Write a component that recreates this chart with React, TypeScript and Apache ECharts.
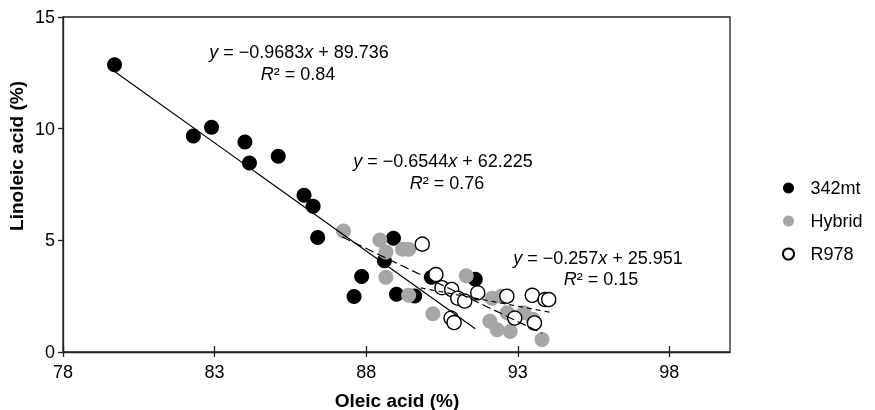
import React, { useEffect, useRef } from "react";
import * as echarts from "echarts";

const seriesNames = ["342mt", "Hybrid", "R978"];

const data342mt: [number, number][] = [
  [79.7, 12.86], [82.3, 9.67], [82.9, 10.06], [84.0, 9.4], [84.15, 8.46],
  [85.1, 8.76], [85.95, 7.02], [86.25, 6.53], [86.4, 5.13], [88.9, 5.09],
  [88.6, 4.09], [87.85, 3.38], [87.6, 2.48], [89.0, 2.59], [89.6, 2.51],
  [90.15, 3.35], [91.6, 3.26],
];

const dataHybrid: [number, number][] = [
  [87.25, 5.42], [88.45, 5.01], [88.65, 4.48], [89.2, 4.6], [89.4, 4.6],
  [88.65, 3.35], [89.4, 2.54], [90.2, 1.71], [91.3, 3.41], [92.15, 2.41],
  [92.45, 2.5], [92.65, 1.76], [93.2, 1.76], [93.5, 1.47], [92.08, 1.38],
  [92.32, 1.0], [92.75, 0.92], [93.8, 0.56],
];

const dataR978: [number, number][] = [
  [89.85, 4.83], [90.3, 3.47], [90.5, 2.88], [90.82, 2.8], [91.02, 2.41],
  [91.25, 2.28], [91.68, 2.65], [90.8, 1.52], [90.9, 1.32], [92.64, 2.5],
  [93.48, 2.54], [93.9, 2.35], [94.02, 2.35], [92.9, 1.52], [93.55, 1.3],
];

// Trend line end points
const fit342mt: [number, number][] = [[79.7, 12.56], [91.6, 1.04]];
const fitHybrid: [number, number][] = [[87.2, 5.16], [93.8, 0.84]];
const fitR978: [number, number][] = [[89.8, 2.87], [94.1, 1.77]];

const equations = [
  { eq: "{i|y} = −0.9683{i|x} + 89.736", r2: "{i|R}² = 0.84" },
  { eq: "{i|y} = −0.6544{i|x} + 62.225", r2: "{i|R}² = 0.76" },
  { eq: "{i|y} = −0.257{i|x} + 25.951", r2: "{i|R}² = 0.15" },
];

const xTicks = [78, 83, 88, 93, 98];
const xMin = 78;
const xMax = 100;
const xInterval = 5;
const yMin = 0;
const yMax = 15;
const yInterval = 5;

const FONT = "'Liberation Sans', Arial, Helvetica, sans-serif";

export default function App() {
  const ref = useRef<HTMLDivElement>(null);
  useEffect(() => {
    if (!ref.current) return;
    const chart = echarts.init(ref.current, undefined, { renderer: "svg" });

    const eqPos = [
      { x: 299, y: 52, rx: 298, ry: 74 },
      { x: 443, y: 161, rx: 447, ry: 183 },
      { x: 598, y: 258, rx: 601, ry: 279 },
    ];
    const rich = { i: { fontStyle: "italic", fontSize: 18, fontFamily: FONT, fill: "#000" } };
    const eqGraphics: any[] = [];
    const textStyle = (text: string) => ({
      text,
      fontSize: 18,
      fontFamily: FONT,
      fill: "#000",
      align: "center",
      verticalAlign: "middle",
      textAlign: "center",
      textVerticalAlign: "middle",
      rich,
    });
    equations.forEach((e, k) => {
      const p = eqPos[k];
      eqGraphics.push({ type: "text", x: p.x, y: p.y, z: 100, style: textStyle(e.eq) });
      eqGraphics.push({ type: "text", x: p.rx, y: p.ry, z: 100, style: textStyle(e.r2) });
    });

    const lineStyleBase = { color: "#000", width: 1.2 };

    chart.setOption({
      animation: false,
      grid: {
        left: 63,
        right: 145,
        top: 17,
        bottom: 58,
        show: true,
        borderColor: "#222",
        borderWidth: 1.3,
        backgroundColor: "transparent",
      },
      legend: {
        data: seriesNames,
        orient: "vertical",
        left: 777,
        top: 173,
        itemWidth: 34,
        itemHeight: 11,
        itemGap: 13,
        textStyle: { fontSize: 18, fontFamily: FONT, color: "#000", lineHeight: 20 },
      },
      xAxis: [
        {
          type: "value",
          min: xMin,
          max: xMax,
          interval: xInterval,
          position: "bottom",
          splitLine: { show: false },
          axisLine: { show: true, onZero: false, lineStyle: { color: "#222", width: 1.3 } },
          axisTick: {
            show: true,
            inside: false,
            length: 5,
            customValues: xTicks,
            lineStyle: { color: "#222", width: 1.3 },
          },
          axisLabel: {
            fontSize: 18,
            fontFamily: FONT,
            color: "#000",
            margin: 11,
            customValues: xTicks,
          },
        },
        {
          type: "value",
          min: xMin,
          max: xMax,
          interval: xInterval,
          position: "bottom",
          splitLine: { show: false },
          axisLine: { show: false, onZero: false },
          axisTick: {
            show: true,
            inside: true,
            length: 6,
            customValues: xTicks,
            lineStyle: { color: "#222", width: 1.3 },
          },
          axisLabel: { show: false },
        },
      ],
      yAxis: {
        type: "value",
        min: yMin,
        max: yMax,
        interval: yInterval,
        splitLine: { show: false },
        axisLine: { show: true, lineStyle: { color: "#222", width: 1.3 } },
        axisTick: { show: true, inside: false, length: 5, lineStyle: { color: "#222", width: 1.3 } },
        axisLabel: { fontSize: 18, fontFamily: FONT, color: "#000", margin: 8 },
      },
      series: [
        {
          name: "342mt",
          type: "scatter",
          symbol: "circle",
          symbolSize: 15,
          data: data342mt,
          itemStyle: { color: "#000", opacity: 1 },
          z: 3,
        },
        {
          name: "Hybrid",
          type: "scatter",
          symbol: "circle",
          symbolSize: 15,
          data: dataHybrid,
          itemStyle: { color: "#a6a6a6", opacity: 1 },
          z: 4,
        },
        {
          name: "R978",
          type: "scatter",
          symbol: "circle",
          symbolSize: 14,
          data: dataR978,
          itemStyle: { color: "#fff", borderColor: "#000", borderWidth: 1.4, opacity: 1 },
          z: 5,
        },
        {
          name: "fit342mt",
          type: "line",
          data: fit342mt,
          showSymbol: false,
          symbol: "none",
          lineStyle: { ...lineStyleBase, type: "solid" },
          z: 6,
          silent: true,
        },
        {
          name: "fitHybrid",
          type: "line",
          data: fitHybrid,
          showSymbol: false,
          symbol: "none",
          lineStyle: { ...lineStyleBase, type: [9, 4] },
          z: 6,
          silent: true,
        },
        {
          name: "fitR978",
          type: "line",
          data: fitR978,
          showSymbol: false,
          symbol: "none",
          lineStyle: { ...lineStyleBase, type: [5, 4] },
          z: 6,
          silent: true,
        },
      ],
      graphic: [
        ...eqGraphics,
        {
          type: "text",
          x: 397,
          y: 400,
          style: {
            text: "Oleic acid (%)",
            fontSize: 19,
            fontWeight: "bold",
            fontFamily: FONT,
            fill: "#000",
            align: "center",
            verticalAlign: "middle",
            textAlign: "center",
            textVerticalAlign: "middle",
          },
        },
        {
          type: "text",
          x: 16,
          y: 156,
          rotation: Math.PI / 2,
          style: {
            text: "Linoleic acid (%)",
            fontSize: 19,
            fontWeight: "bold",
            fontFamily: FONT,
            fill: "#000",
            align: "center",
            verticalAlign: "middle",
            textAlign: "center",
            textVerticalAlign: "middle",
          },
        },
      ],
    });
    return () => chart.dispose();
  }, []);
  return <div ref={ref} style={{ position: "fixed", left: 0, top: 0, width: 875, height: 410 }} />;
}
